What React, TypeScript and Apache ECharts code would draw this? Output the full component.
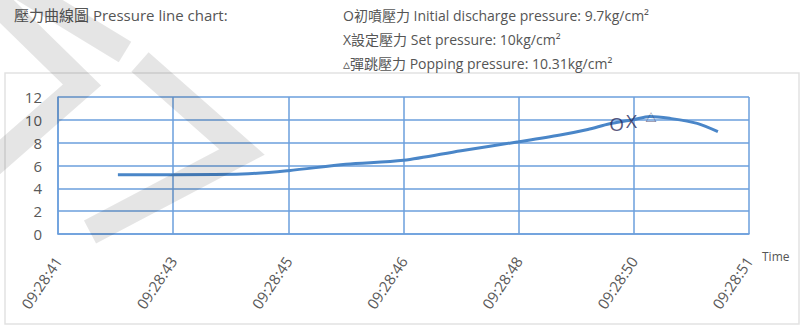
import React, { useEffect, useRef } from "react";
import * as echarts from "echarts";

const timeLabels = ["09:28:41", "09:28:43", "09:28:45", "09:28:46", "09:28:48", "09:28:50", "09:28:51"];
const yTicks = [0, 2, 4, 6, 8, 10, 12];
const pressureX = [0.52, 1.0, 1.6, 2.0, 2.5, 3.0, 3.5, 4.0, 4.36, 4.6, 4.79, 4.99, 5.14, 5.31, 5.55, 5.73];
const pressureY = [5.2, 5.2, 5.25, 5.55, 6.1, 6.45, 7.3, 8.08, 8.67, 9.15, 9.65, 10.0, 10.3, 10.13, 9.69, 8.96];
const markerLabels = ["O", "X", "△"];
const markerX = [4.85, 4.98, 5.15];
const markerY = [9.7, 10.0, 10.31];
const headerLines = [
  "O初噴壓力 Initial discharge pressure: 9.7kg/cm²",
  "X設定壓力 Set pressure: 10kg/cm²",
  "▵彈跳壓力 Popping pressure: 10.31kg/cm²",
];
const titleText = "壓力曲線圖 Pressure line chart:";

const BLUE = "#6b9fdc";
const FONT = "'Open Sans', 'Noto Sans CJK TC', sans-serif";

export default function App() {
  const ref = useRef<HTMLDivElement>(null);
  useEffect(() => {
    if (!ref.current) return;
    const chart = echarts.init(ref.current, undefined, { renderer: "svg" });
    const wm = "rgba(0,0,0,0.10)";
    chart.setOption({
      animation: false,
      backgroundColor: "#fff",
      grid: { left: 58, right: 62, top: 97, bottom: 92, show: false },
      xAxis: {
        type: "value",
        min: 0,
        max: 6,
        interval: 1,
        axisLine: { show: true, lineStyle: { color: BLUE, width: 1.5 } },
        axisTick: { show: false },
        splitLine: { show: true, lineStyle: { color: BLUE, width: 1.5 } },
        axisLabel: {
          rotate: 56,
          margin: 24,
          color: "#595959",
          fontSize: 15,
          fontFamily: FONT,
          formatter: (v: number) => timeLabels[Math.round(v)] ?? "",
        },
      },
      yAxis: {
        type: "value",
        min: 0,
        max: 12,
        interval: 2,
        axisLine: { show: true, lineStyle: { color: BLUE, width: 1.5 } },
        axisTick: { show: false },
        splitLine: { show: true, lineStyle: { color: BLUE, width: 1.5 } },
        axisLabel: {
          color: "#595959",
          fontSize: 15,
          fontFamily: FONT,
          margin: 16,
          formatter: (v: number) => (yTicks.includes(v) ? String(v) : ""),
        },
      },
      series: [
        {
          type: "line",
          data: pressureX.map((x, i) => [x, pressureY[i]]),
          smooth: 0.3,
          showSymbol: false,
          lineStyle: { color: "#4a86c8", width: 3 },
          z: 3,
        },
        {
          type: "scatter",
          data: markerX.map((x, i) => ({
            value: [x, markerY[i]],
            label: { fontSize: i === 2 ? 11 : 19, offset: [0, 1] },
          })),
          symbolSize: 1,
          itemStyle: { color: "rgba(0,0,0,0)" },
          label: {
            show: true,
            position: "inside",
            color: "#2b2a5a",
            fontFamily: FONT,
            formatter: (p: any) => markerLabels[p.dataIndex],
          },
          z: 4,
        },
      ],
      graphic: [
        {
          type: "rect",
          shape: { x: 5, y: 73, width: 794, height: 251 },
          style: { fill: "none", stroke: "#e2e2e2", lineWidth: 1.5 },
          z: -1,
        },
        {
          type: "text",
          x: 14,
          y: 15,
          style: { text: titleText, fill: "#555", font: `15px ${FONT}`, textVerticalAlign: "middle" },
        },
        ...headerLines.map((t, i) => ({
          type: "text",
          x: 343,
          y: 15 + i * 24,
          style: { text: t, fill: "#555", font: `14px ${FONT}`, textVerticalAlign: "middle" },
        })),
        {
          type: "text",
          x: 762,
          y: 256,
          style: { text: "Time", fill: "#555", font: `12px ${FONT}`, textVerticalAlign: "middle" },
        },
        {
          type: "polyline",
          shape: { points: [[-15, -10], [82, 85], [-15, 170]] },
          style: { stroke: wm, lineWidth: 26, fill: "none" },
          z: 100,
        },
        {
          type: "polyline",
          shape: { points: [[15, -15], [125, 52]] },
          style: { stroke: wm, lineWidth: 24, fill: "none" },
          z: 100,
        },
        {
          type: "polyline",
          shape: { points: [[140, 62], [242, 152], [90, 232]] },
          style: { stroke: wm, lineWidth: 26, fill: "none" },
          z: 100,
        },
      ],
    });
    return () => chart.dispose();
  }, []);
  return <div ref={ref} style={{ position: "fixed", left: 0, top: 0, width: 811, height: 326 }} />;
}
